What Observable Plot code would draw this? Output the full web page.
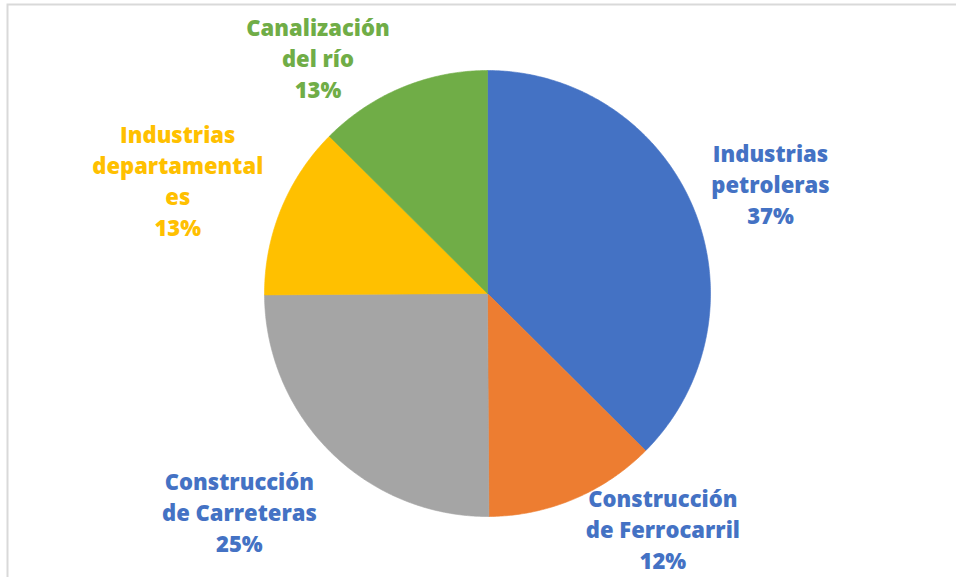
<!DOCTYPE html>
<html>
<head>
<meta charset="utf-8">
<script src="https://cdn.jsdelivr.net/npm/d3@7"></script>
<script src="https://cdn.jsdelivr.net/npm/@observablehq/plot@0.6"></script>
<style>
  html, body { margin: 0; padding: 0; background: #fff; }
  #chart { width: 956px; height: 577px; }
</style>
</head>
<body>
<div id="chart"></div>
<script>
// ---- data ----
const categories = ["Industrias petroleras", "Construcción de Ferrocarril", "Construcción de Carreteras", "Industrias departamentales", "Canalización del río"];
const shares = [37.45, 12.45, 25.0, 12.55, 12.55];
const labelLines = ["Industrias\npetroleras", "Construcción\nde Ferrocarril", "Construcción\nde Carreteras", "Industrias\ndepartamental\nes", "Canalización\ndel río"];
const sliceColors = ["#4472C4", "#ED7D31", "#A5A5A5", "#FFC000", "#70AD47"];
const labelColors = ["#4472C4", "#4472C4", "#4472C4", "#FFC000", "#70AD47"];

// ---- layout ----
const W = 956, H = 577, CX = 487, CY = 293, R = 223;
const arcs = d3.pie().sort(null).value(d => d)(shares);

const pts = [];
arcs.forEach((a, i) => {
  const name = categories[i];
  pts.push({name, x: 0, y: 0});
  const n = Math.max(2, Math.ceil((a.endAngle - a.startAngle) / (Math.PI / 360)));
  for (let k = 0; k <= n; k++) {
    const t = a.startAngle + (a.endAngle - a.startAngle) * k / n;
    pts.push({name, x: Math.sin(t), y: Math.cos(t)});
  }
  pts.push({name, x: 0, y: 0});
});

const nudges = [[3, 6], [58, -45], [-35, 2], [-29, 1], [-53, 44]];
const labelR = 1.36;
const labels = arcs.map((a, i) => {
  const m = (a.startAngle + a.endAngle) / 2;
  return {
    name: categories[i],
    text: labelLines[i] + "\n" + Math.round(shares[i]) + "%",
    x: labelR * Math.sin(m) + nudges[i][0] / R,
    y: labelR * Math.cos(m) - nudges[i][1] / R,
    color: labelColors[i]
  };
});

const chart = Plot.plot({
  width: W,
  height: H,
  margin: 0,
  x: {domain: [-CX / R, (W - CX) / R], axis: null},
  y: {domain: [-(H - CY) / R, CY / R], axis: null},
  color: {domain: categories, range: sliceColors},
  marks: [
    Plot.frame({stroke: "#d9d9d9", strokeWidth: 2, insetLeft: 7, insetTop: 4, insetRight: -5, insetBottom: -5}),
    Plot.line(pts, {x: "x", y: "y", z: "name", fill: "name", stroke: "name", strokeWidth: 0.6, curve: "linear"}),
    Plot.text(labels, {
      x: "x", y: "y", text: "text", fill: d => d.color,
      fontSize: 22, fontWeight: 800, fontFamily: "'Open Sans', Lato, sans-serif",
      lineHeight: 31 / 22, textAnchor: "middle", lineAnchor: "middle"
    })
  ]
});
document.getElementById("chart").appendChild(chart);
</script>
</body>
</html>
